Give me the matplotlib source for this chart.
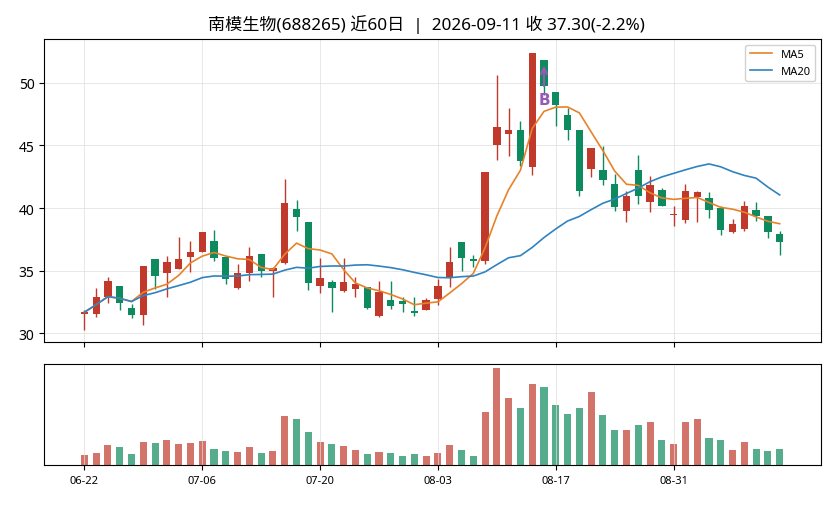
import numpy as np
import pandas as pd
import matplotlib
matplotlib.use("Agg")
import matplotlib.pyplot as plt

plt.rcParams['font.family'] = ['Noto Sans', 'Noto Sans CJK SC', 'DejaVu Sans']
plt.rcParams['axes.unicode_minus'] = False

# daily data, 60 trading days
dates = pd.bdate_range("2026-06-22", "2026-09-11")

opens = [31.55, 31.55, 32.9, 33.8, 32.0, 31.5, 35.9, 34.8, 35.1, 36.1,
         36.5, 37.4, 36.1, 33.6, 34.85, 36.35, 34.95, 35.6, 39.95, 38.9,
         33.8, 34.1, 33.35, 33.55, 33.7, 31.4, 32.65, 32.6, 31.8, 31.9,
         32.75, 34.5, 37.3, 35.95, 35.75, 45.0, 45.9, 46.2, 43.25, 51.85,
         49.3, 47.45, 46.25, 43.1, 43.0, 41.95, 39.8, 43.0, 40.5, 41.45,
         39.43, 39.05, 40.9, 40.8, 40.0, 38.05, 38.35, 39.85, 39.4, 37.95]
highs = [31.9, 33.6, 34.5, 33.8, 32.35, 35.4, 35.9, 36.16, 37.7, 37.36,
         38.1, 38.26, 36.1, 35.5, 36.88, 36.35, 35.3, 42.3, 40.66, 38.9,
         36.0, 34.26, 36.0, 34.53, 33.72, 34.16, 34.16, 32.93, 32.88, 32.82,
         34.37, 36.88, 37.3, 36.26, 42.9, 50.66, 48.0, 46.98, 52.42, 51.86,
         49.3, 48.0, 46.26, 44.82, 44.93, 42.74, 41.33, 44.26, 42.53, 41.6,
         40.13, 41.94, 41.38, 41.3, 40.18, 39.12, 40.58, 40.5, 39.4, 38.13]
lows = [30.3, 31.3, 32.4, 31.9, 31.25, 30.7, 33.5, 32.9, 35.14, 34.88,
        36.5, 35.78, 33.9, 33.57, 34.18, 34.53, 32.88, 35.5, 38.18, 33.45,
        33.2, 31.68, 33.3, 32.88, 31.96, 31.3, 31.92, 31.68, 31.38, 31.85,
        32.24, 33.73, 35.0, 35.28, 35.5, 43.86, 44.13, 43.33, 42.6, 49.0,
        46.53, 45.46, 40.93, 42.48, 41.81, 39.73, 38.88, 40.34, 39.68, 40.2,
        38.53, 38.8, 38.88, 39.2, 37.84, 38.0, 38.13, 38.93, 37.6, 36.26]
closes = [31.68, 32.9, 34.2, 32.4, 31.5, 35.4, 34.6, 35.7, 35.9, 36.5,
          38.1, 36.05, 34.3, 34.8, 36.2, 34.95, 35.2, 40.4, 39.25, 34.0,
          34.4, 33.65, 34.1, 33.95, 32.0, 33.3, 32.15, 32.3, 31.65, 32.65,
          33.8, 35.7, 36.0, 35.75, 42.9, 46.5, 46.2, 43.75, 52.4, 49.75,
          48.2, 46.25, 41.4, 44.8, 42.25, 40.05, 41.0, 40.95, 41.85, 40.2,
          39.48, 41.4, 41.3, 39.85, 38.25, 38.75, 40.2, 39.4, 38.1, 37.3]
volumes = [30, 36, 60, 54, 33, 69, 66, 75, 63, 66,
           72, 48, 42, 39, 54, 36, 42, 147, 138, 99,
           69, 63, 57, 45, 33, 39, 36, 27, 33, 27,
           36, 60, 45, 27, 159, 291, 201, 171, 243, 234,
           180, 153, 171, 219, 150, 105, 105, 120, 129, 75,
           63, 129, 138, 81, 75, 45, 69, 48, 42, 48]

buy_idx = 39
buy_label = "B"

df = pd.DataFrame({"open": opens, "high": highs, "low": lows,
                   "close": closes, "volume": volumes}, index=dates)
df["ma5"] = df["close"].rolling(5, min_periods=1).mean()
df["ma20"] = df["close"].rolling(20, min_periods=1).mean()

up_color = "#c0392b"
down_color = "#0e8a5f"

x = np.arange(len(df))
up = df["close"] >= df["open"]
colors = np.where(up, up_color, down_color)

fig = plt.figure(figsize=(8.36, 5.06), dpi=100)
ax = fig.add_axes([0.053, 0.322, 0.929, 0.599])
axv = fig.add_axes([0.053, 0.079, 0.929, 0.200])

# velas
ax.vlines(x, df["low"], df["high"], color=colors, linewidth=1.0, zorder=2)
body_bottom = np.minimum(df["open"], df["close"])
body_h = np.abs(df["close"] - df["open"]).clip(lower=0.08)
ax.bar(x, body_h, bottom=body_bottom, width=0.62, color=colors, zorder=3)

ax.plot(x, df["ma5"], color="#e8822a", linewidth=1.2, label="MA5", zorder=4)
ax.plot(x, df["ma20"], color="#2f83c0", linewidth=1.2, label="MA20", zorder=4)

# senal de compra
ax.annotate(buy_label, xy=(buy_idx, 51.6), xytext=(buy_idx, 48.7),
            ha="center", va="center", color="#9b59b6", fontsize=11,
            fontweight="bold", family=["DejaVu Sans"],
            arrowprops=dict(arrowstyle="->", color="#9b59b6", lw=1.5),
            zorder=5)

ax.set_xlim(-3.4, 62.5)
ax.set_ylim(29.3, 53.5)
ax.set_yticks([30, 35, 40, 45, 50])
ticks = x[::10]
ax.set_xticks(ticks)
ax.set_xticklabels([])
ax.grid(True, color="#dddddd", linewidth=0.6, alpha=0.8)
ax.tick_params(axis="y", labelsize=10)
ax.legend(loc="upper right", fontsize=8, framealpha=0.9)
ax.set_title("南模生物(688265) 近60日  |  2026-09-11 收 37.30(-2.2%)",
             fontsize=12.3, pad=7, x=0.492)

# volumen
axv.bar(x, df["volume"], width=0.6, color=colors, alpha=0.7)
axv.set_xlim(-3.4, 62.5)
axv.set_ylim(0, max(volumes) * 1.04)
axv.set_yticks([])
axv.set_xticks(ticks)
axv.set_xticklabels([d.strftime("%m-%d") for d in dates[ticks]], fontsize=8)
axv.grid(True, axis="x", color="#dddddd", linewidth=0.6, alpha=0.8)

fig.savefig("out.png", dpi=100)
